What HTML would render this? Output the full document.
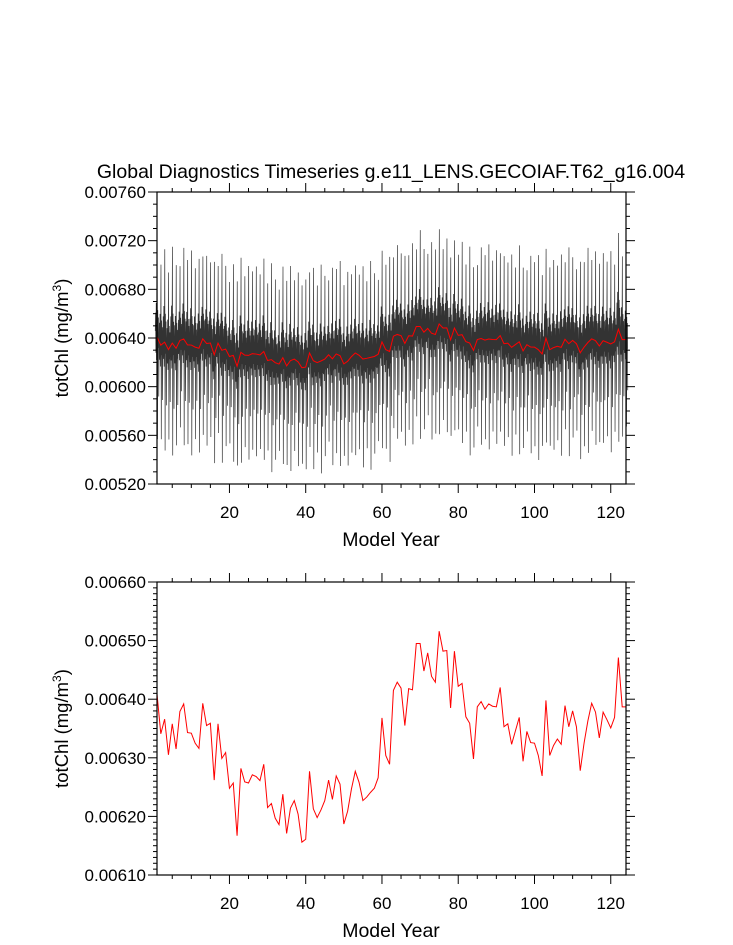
<!DOCTYPE html>
<html><head><meta charset="utf-8"><style>
body{margin:0;background:#fff;}
svg{display:block;font-family:"Liberation Sans",sans-serif;}
</style></head><body>
<svg id="chart" width="733" height="945" viewBox="0 0 733 945"></svg>
<script>
// Annual means (units of 0.0001 above 0.0061 mg/m^3), years 1..124
const years = Array.from({length:124},(_,i)=>i+1);
const annualMean = [3.09,2.41,2.66,2.05,2.58,2.15,2.79,2.92,2.43,2.42,2.25,2.16,2.93,2.55,2.59,1.62,2.58,1.99,2.09,1.48,
1.57,0.67,1.82,1.59,1.57,1.71,1.68,1.61,1.89,1.15,1.22,0.97,0.86,1.38,0.71,1.14,1.27,1.04,0.56,0.61,
1.77,1.13,0.98,1.11,1.27,1.62,1.29,1.69,1.55,0.87,1.09,1.47,1.77,1.58,1.27,1.33,1.41,1.48,1.66,2.68,
2.04,1.89,3.15,3.29,3.19,2.55,3.18,3.16,3.95,3.95,3.48,3.79,3.39,3.29,4.16,3.82,3.83,2.85,3.82,3.22,
3.27,2.70,2.59,1.98,2.87,2.96,2.83,2.92,2.88,2.87,3.20,2.53,2.58,2.23,2.46,2.69,1.94,2.45,2.26,2.25,
2.04,1.69,2.98,2.04,2.21,2.32,2.23,2.89,2.53,2.80,2.53,1.78,2.25,2.63,2.93,2.78,2.34,2.78,2.65,2.51,
2.69,3.71,2.87,2.87];
// Seasonal anomaly per month (mg/m^3)
const seasonal = [0.00005,0.00020,-0.00013,0.00028,-0.00019,0.00011,0.00072,-0.00084,0.00022,-0.00009,0.00016,-0.00049];
// Peak scaling per year group (cycled)
const peakScale = [1.0,0.92,1.06,0.88,1.1,0.95,0.85,1.04,0.97,1.08,0.9,1.02,0.94];
const topYTicks = ["0.00520","0.00560","0.00600","0.00640","0.00680","0.00720","0.00760"];
const botYTicks = ["0.00610","0.00620","0.00630","0.00640","0.00650","0.00660"];
const xTicks = [20,40,60,80,100,120];

const NS="http://www.w3.org/2000/svg";
const svg=document.getElementById('chart');
function mk(t,a,p){const e=document.createElementNS(NS,t);for(const k in a)e.setAttribute(k,a[k]);(p||svg).appendChild(e);return e;}

const X0=157,X1=626, XMIN=1, XMAX=124;
const xs=v=>X0+(v-XMIN)/(XMAX-XMIN)*(X1-X0);

function panel(name,top,bot,ymin,ymax,yticks,minorStep,majorStep,drawMonthly){
  const ys=v=>bot-(v-ymin)/(ymax-ymin)*(bot-top);
  const g=mk('g',{});
  
  
  if(drawMonthly){
    let d='';
    for(let y=0;y<years.length;y++){
      const s=peakScale[y%peakScale.length];
      for(let m=0;m<12;m++){
        const v=0.0061+annualMean[y]*0.0001+seasonal[m]*s;
        const xx=xs(years[y]-0.5+(m+0.5)/12);
        d+=(d?'L':'M')+xx.toFixed(2)+' '+ys(v).toFixed(2);
      }
    }
    const p=mk('path',{d:d,fill:'none',stroke:'#000','stroke-width':0.7,'stroke-opacity':0.8},g);
    
    
  }
  let d='';
  years.forEach((yr,i)=>{d+=(i?'L':'M')+xs(yr).toFixed(2)+' '+ys(0.0061+annualMean[i]*0.0001).toFixed(2);});
  const rl=mk('path',{d:d,fill:'none',stroke:'#ff0000','stroke-width':1},g);
  
  
  const fr=mk('rect',{x:X0,y:top,width:X1-X0,height:bot-top,fill:'none',stroke:'#000','stroke-width':1.2},g);
  
  
  const n=Math.round((ymax-ymin)/minorStep);
  for(let i=0;i<=n;i++){
    const v=ymin+i*minorStep, yy=ys(v);
    const major=(i%Math.round(majorStep/minorStep))===0;
    const L=major?9:4;
    mk('line',{x1:X0-L,x2:X0,y1:yy,y2:yy,stroke:'#000','stroke-width':1},g);
    mk('line',{x1:X1,x2:X1+L,y1:yy,y2:yy,stroke:'#000','stroke-width':1},g);
  }
  yticks.forEach((lab,i)=>{
    const t=mk('text',{x:X0-11,y:ys(ymin+i*majorStep)+6,'text-anchor':'end','font-size':17},g);
    t.textContent=lab;
    
    
  });
  for(let v=5;v<=124;v+=5){
    const xx=xs(v), major=v%20===0, L=major?9:4;
    mk('line',{x1:xx,x2:xx,y1:bot,y2:bot+L,stroke:'#000','stroke-width':1},g);
    mk('line',{x1:xx,x2:xx,y1:top-L,y2:top,stroke:'#000','stroke-width':1},g);
  }
  xTicks.forEach(v=>{
    const t=mk('text',{x:xs(v),y:bot+34,'text-anchor':'middle','font-size':17},g);
    t.textContent=v;
    
    
  });
  const xt=mk('text',{x:391,y:bot+62,'text-anchor':'middle','font-size':19.5},g);
  xt.textContent='Model Year';
  
  
  const cy=(top+bot)/2;
  const yt=mk('text',{x:68,y:cy,'text-anchor':'middle','font-size':18.5,transform:`rotate(-90 68 ${cy})`},g);
  yt.innerHTML='totChl (mg/m<tspan dy="-7" font-size="12">3</tspan><tspan dy="7">)</tspan>';
  
  
}
const title=mk('text',{x:391,y:178,'text-anchor':'middle','font-size':19.5});
title.textContent='Global Diagnostics Timeseries g.e11_LENS.GECOIAF.T62_g16.004';


panel('top-panel',192,484,0.0052,0.0076,topYTicks,0.0001,0.0004,true);
panel('bottom-panel',582,875,0.0061,0.0066,botYTicks,0.00001,0.0001,false);
</script>
</body></html>
